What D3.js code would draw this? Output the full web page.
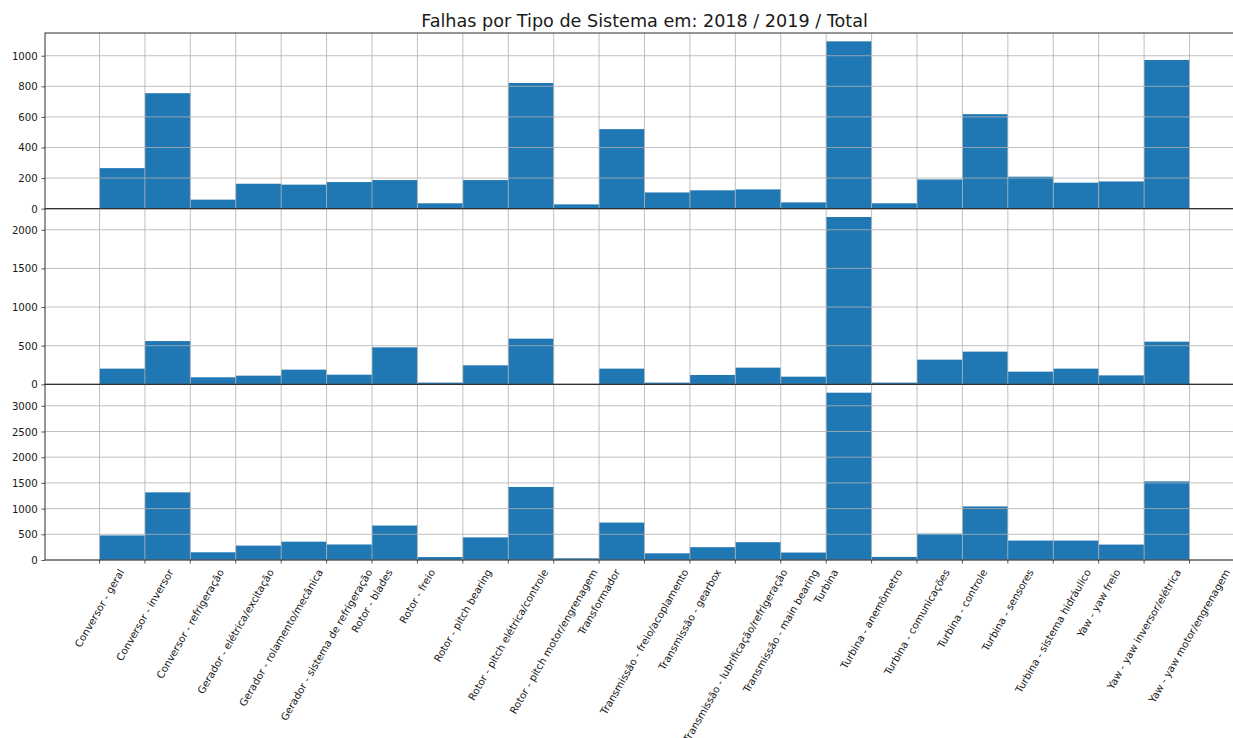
<!DOCTYPE html>
<html>
<head>
<meta charset="utf-8">
<script src="https://cdn.jsdelivr.net/npm/d3@7"></script>
<style>
  body { margin: 0; background: #fff; }
  svg { display: block; }
  text { font-family: "DejaVu Sans", sans-serif; fill: #1a1a1a; }
</style>
</head>
<body>
<svg id="chart" width="1233" height="738"></svg>
<script>
// System categories (x ticks); the histogram uses 24 unit bins over 0..24,
// so the last bin holds both "Yaw" inverter and motor categories.
const categories = [
  "Conversor - geral",
  "Conversor - inversor",
  "Conversor - refrigeração",
  "Gerador - elétrica/excitação",
  "Gerador - rolamento/mecânica",
  "Gerador - sistema de refrigeração",
  "Rotor - blades",
  "Rotor - freio",
  "Rotor - pitch bearing",
  "Rotor - pitch elétrica/controle",
  "Rotor - pitch motor/engrenagem",
  "Transformador",
  "Transmissão - freio/acoplamento",
  "Transmissão - gearbox",
  "Transmissão - lubrificação/refrigeração",
  "Transmissão - main bearing",
  "Turbina",
  "Turbina - anemômetro",
  "Turbina - comunicações",
  "Turbina - controle",
  "Turbina - sensores",
  "Turbina - sistema hidráulico",
  "Yaw - yaw freio",
  "Yaw - yaw inversor/elétrica",
  "Yaw - yaw motor/engrenagem"
];
const binCount = 24;

// Failure counts per bin
const falhas2018 = [265, 755, 59, 163, 157, 174, 187, 35, 187, 822, 28, 520,
                    106, 120, 126, 41, 1094, 35, 191, 618, 209, 170, 178, 972];
const falhas2019 = [203, 560, 91, 112, 190, 125, 479, 22, 246, 591, 5, 203,
                    22, 121, 216, 99, 2165, 22, 319, 423, 164, 203, 116, 552];
const falhasTotal = [478, 1316, 150, 280, 356, 302, 670, 58, 440, 1420, 33, 728,
                     130, 250, 346, 145, 3255, 60, 512, 1042, 378, 378, 300, 1530];

// Y tick values per panel
const yTicks2018 = [0, 200, 400, 600, 800, 1000];
const yTicks2019 = [0, 500, 1000, 1500, 2000];
const yTicksTotal = [0, 500, 1000, 1500, 2000, 2500, 3000];

const titleText = "Falhas por Tipo de Sistema em: 2018 / 2019 / Total";

const svg = d3.select("#chart");
const plotLeft = 45, plotRight = 1244, plotTop = 33, plotBottom = 560;
const panelH = (plotBottom - plotTop) / 3;
const tickLen = 3.6, tickPad = 3.6;
const fontSize = 10.2;
const barColor = "#1f77b4";
const gridColor = "#b0b0b0";
const spineColor = "#2e2e2e";

const xPad = 0.05 * binCount;
const x = d3.scaleLinear().domain([-xPad, binCount + xPad]).range([plotLeft, plotRight]);
const tickPositions = d3.range(categories.length);

const panels = [
  { values: falhas2018, ticks: yTicks2018 },
  { values: falhas2019, ticks: yTicks2019 },
  { values: falhasTotal, ticks: yTicksTotal }
];

panels.forEach((p, idx) => {
  const y0 = plotTop + (idx + 1) * panelH;
  const y1 = plotTop + idx * panelH;
  const y = d3.scaleLinear().domain([0, d3.max(p.values) * 1.05]).range([y0, y1]);
  const g = svg.append("g");

  // bars
  g.append("g").selectAll("rect")
    .data(p.values)
    .join("rect")
    .attr("x", (d, i) => x(i))
    .attr("width", (d, i) => x(i + 1) - x(i))
    .attr("y", d => y(d))
    .attr("height", d => y(0) - y(d))
    .attr("fill", barColor);

  // grid above the bars
  const grid = g.append("g");
  grid.selectAll("line.h")
    .data(p.ticks)
    .join("line")
    .attr("class", "h")
    .attr("x1", plotLeft).attr("x2", plotRight)
    .attr("y1", d => y(d)).attr("y2", d => y(d))
    .attr("stroke", gridColor).attr("stroke-width", 0.8);
  grid.selectAll("line.v")
    .data(tickPositions)
    .join("line")
    .attr("class", "v")
    .attr("x1", d => x(d)).attr("x2", d => x(d))
    .attr("y1", y0).attr("y2", y1)
    .attr("stroke", gridColor).attr("stroke-width", 0.8);

  // y axis ticks and labels
  const yAxis = d3.axisLeft(y)
    .tickValues(p.ticks)
    .tickSize(tickLen)
    .tickPadding(tickPad)
    .tickFormat(d3.format("d"));
  const ya = g.append("g").attr("transform", `translate(${plotLeft},0)`).call(yAxis);
  ya.select(".domain").remove();
  ya.selectAll(".tick line").attr("stroke", spineColor).attr("stroke-width", 0.8);
  ya.selectAll(".tick text")
    .attr("font-size", fontSize)
    .attr("font-family", "DejaVu Sans")
    .attr("fill", "#1a1a1a")
    .attr("dy", null)
    .attr("dominant-baseline", "central");

  // spines
  g.append("rect")
    .attr("x", plotLeft).attr("y", y1)
    .attr("width", plotRight - plotLeft).attr("height", y0 - y1)
    .attr("fill", "none")
    .attr("stroke", spineColor)
    .attr("stroke-width", 1);

  // x ticks + rotated labels on the last panel
  if (idx === panels.length - 1) {
    const xa = g.append("g");
    xa.selectAll("line")
      .data(tickPositions)
      .join("line")
      .attr("x1", d => x(d)).attr("x2", d => x(d))
      .attr("y1", y0).attr("y2", y0 + tickLen)
      .attr("stroke", spineColor).attr("stroke-width", 0.8);

    const ang = 60 * Math.PI / 180;
    const lineH = 1.164 * fontSize;
    xa.selectAll("text")
      .data(tickPositions)
      .join("text")
      .attr("font-size", fontSize)
      .attr("text-anchor", "middle")
      .attr("dominant-baseline", "central")
      .text(d => categories[d])
      .each(function (d) {
        const L = this.getComputedTextLength();
        const H = L * Math.sin(ang) + lineH * Math.cos(ang);
        const cy = y0 + tickLen + tickPad + H / 2;
        d3.select(this).attr("transform", `translate(${x(d)},${cy}) rotate(-60)`);
      });
  }
});

// title
svg.append("text")
  .attr("x", (plotLeft + plotRight) / 2)
  .attr("y", 27)
  .attr("text-anchor", "middle")
  .attr("font-size", 17.6)
  .text(titleText);
</script>
</body>
</html>
